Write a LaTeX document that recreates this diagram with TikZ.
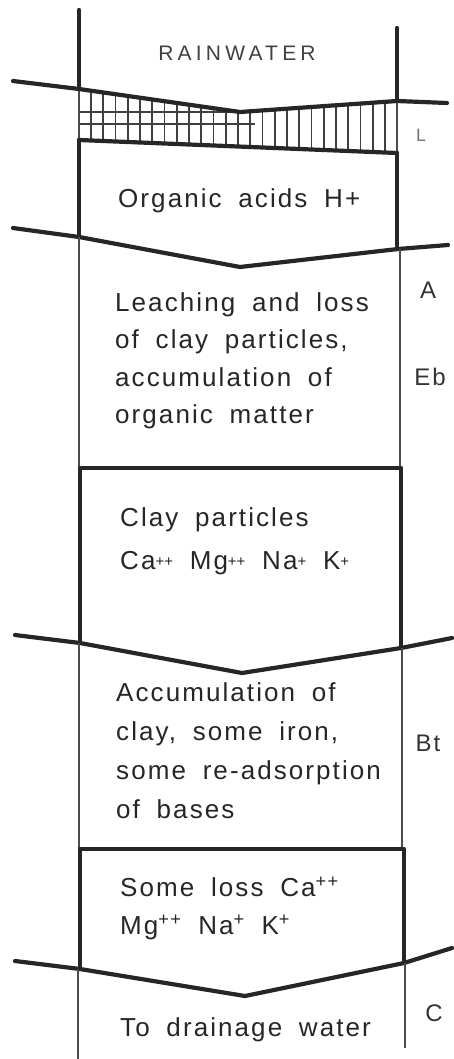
\documentclass[tikz,border=0pt]{standalone}
\usepackage{fontspec}
\setmainfont{Liberation Sans}[LetterSpace=8,WordSpace=1.8]
\newfontfamily\capsfont{Liberation Sans}[LetterSpace=20]
\newcommand\ionp{\raisebox{0.2ex}{\fontsize{15}{15}\selectfont+}}

\begin{document}
\begin{tikzpicture}[x=1pt, y=-1pt,
    boundary/.style={line width=4.2pt, line cap=round, line join=round, draw=black!85},
    wall/.style={line width=1.3pt, draw=black!70},
    hatch/.style={line width=1.6pt, draw=black!75},
    process/.style={anchor=north west, align=left, inner sep=0pt, text=black!85,
        font=\fontsize{26}{37.5}\selectfont},
    horizon/.style={inner sep=0pt, text=black!80, font=\fontsize{24}{24}\selectfont},
]
\useasboundingbox (0,0) rectangle (454,1059);
  % column walls above the litter
  \draw[boundary] (79,10) -- (79,89);
  \draw[boundary] (397,28) -- (397,101);
  % litter layer
  \begin{scope}
    \clip (79,89) -- (240,112) -- (397,101) -- (397,153) -- (79,140) -- cycle;
    \foreach \x in {0,...,24}
      \draw[hatch] ({91+12.25*\x},80) -- ({91+12.25*\x},160);
    \draw[hatch] (79,112) -- (255,112);
    \draw[hatch] (79,124) -- (255,124);
  \end{scope}
  \draw[wall] (79,89) -- (79,140);
  \draw[wall] (397,101) -- (397,153);
  \draw[boundary] (13,81) -- (79,89) -- (240,112) -- (397,101) -- (447,103);
  \draw[boundary] (79,140) -- (397,153);
  % organic acids box
  \draw[boundary] (79,140) -- (79,237);
  \draw[boundary] (397,153) -- (397,248);
  \draw[boundary] (13,228) -- (79,237) -- (240,267) -- (398,249) -- (448,245);
  % A / Eb horizon
  \draw[wall] (79,237) -- (79,468);
  \draw[wall] (400,249) -- (400,468);
  % clay particles box
  \draw[boundary] (80,643) -- (80,468) -- (401,468) -- (401,648);
  \draw[boundary] (15,635) -- (80,643) -- (242,673) -- (401,648) -- (452,638);
  % Bt horizon
  \draw[wall] (79,643) -- (79,849);
  \draw[wall] (402,648) -- (402,849);
  % loss of bases box
  \draw[boundary] (80,969) -- (80,849) -- (404,849) -- (404,963);
  \draw[boundary] (15,961) -- (80,969) -- (245,996) -- (404,963) -- (452,948);
  % C horizon
  \draw[wall] (78,969) -- (78,1059);
  \draw[wall] (405,963) -- (405,1048);

  % texts
  \node[inner sep=0pt, text=black!75, font=\capsfont\fontsize{21}{21}\selectfont] (rain) at (237,53) {RAINWATER};
  \node[process, anchor=base west] (acids) at (118,208) {Organic acids H+};
  \node[process] (leach) at (115,292) {Leaching and loss\\of clay particles,\\accumulation of\\organic matter};
  \node[process, font=\fontsize{26}{43}\selectfont] (clay) at (120,507) {Clay particles\\Ca\ionp\ionp{} Mg\ionp\ionp{} Na\ionp{} K\ionp};
  \node[process, font=\fontsize{26}{39}\selectfont] (accum) at (116,682) {Accumulation of\\clay, some iron,\\some re-adsorption\\of bases};
  \node[process, font=\fontsize{26}{38}\selectfont] (loss) at (120,877) {Some loss Ca\textsuperscript{++}\\Mg\textsuperscript{++} Na\textsuperscript{+} K\textsuperscript{+}};
  \node[process, anchor=base west] (drain) at (120,1036) {To drainage water};

  % horizon labels
  \node[horizon, font=\fontsize{18}{18}\selectfont, text=black!55] (hl) at (421,135) {L};
  \node[horizon] (ha) at (428,290) {A};
  \node[horizon] (heb) at (430,377) {Eb};
  \node[horizon] (hbt) at (428,743) {Bt};
  \node[horizon] (hc) at (434,1013) {C};
\end{tikzpicture}
\end{document}
